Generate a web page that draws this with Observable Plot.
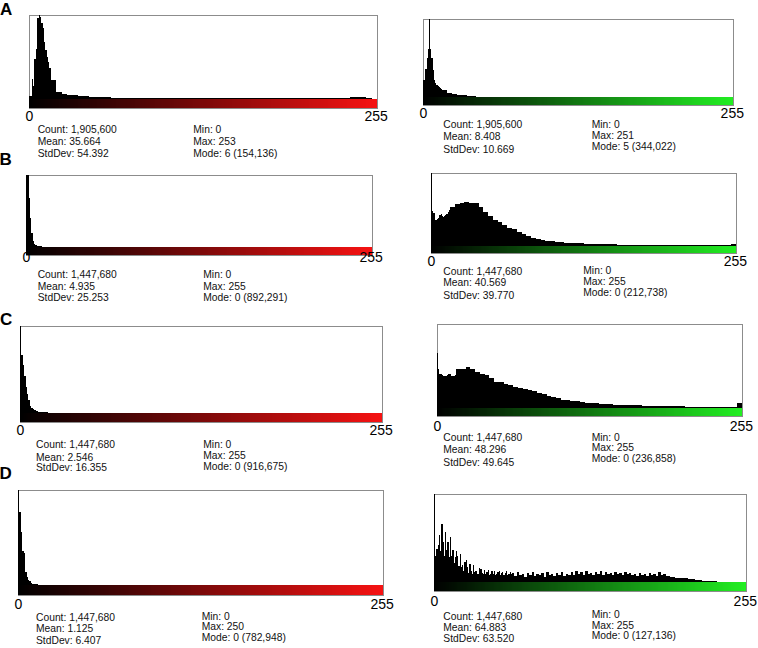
<!DOCTYPE html>
<html><head><meta charset="utf-8">
<script src="https://cdn.jsdelivr.net/npm/d3@7"></script>
<script src="https://cdn.jsdelivr.net/npm/@observablehq/plot@0.6"></script>
<style>
body{margin:0;background:#fff;}
#fig{position:relative;width:758px;height:648px;overflow:hidden;font-family:"Liberation Sans",Arial,sans-serif;background:#fff;}
#fig svg{position:absolute;}
.lbl{position:absolute;font-weight:bold;font-size:17px;line-height:1;color:#000;}
.st{position:absolute;font-size:10.3px;line-height:1;white-space:nowrap;color:#111;}
</style></head><body><div id="fig"></div><script>
// ---------- data (relative histogram heights, % of plot height) ----------
// head: one value per grey level from 0; tail: values for groups of `step` levels after the head
const A_red_head = [3, 4, 24, 15, 48, 60, 97, 100, 98, 90, 85, 68, 58, 50, 44, 37];
const A_red_tail = [23, 8.5, 6, 5, 4.2, 3.5, 3, 2.7, 2.5, 2.2, 1.9, 1.7, 1.6, 1.5, 1.4, 1.3, 1.2,
  1.1, 1.1, 1.0, 1.0, 1.0, 0.9, 0.9, 0.9, 0.9, 0.8, 0.8, 0.8, 0.8, 0.8, 0.8, 0.8, 0.8, 0.8, 0.8, 0.8, 0.8,
  1.4, 0.8, 1.2, 0.8, 1.5, 0.8, 1.4, 1.2, 1.5, 0.8,
  0.8, 0.8, 0.8, 0.8, 0.8, 0.9, 0.9,
  2.0, 2.6, 2.4, 1.5, 0.5];
const A_green_head = [22, 22, 36, 50, 61, 100, 61, 50, 35, 22, 18, 16, 14, 13, 12, 10.5];
const A_green_tail = [8.5, 5.5, 4, 3, 2.3, 1.6, 1, 0.6, 0.4,
  0.2, 0.2, 0.2, 0.2, 0.2, 0.2, 0.2, 0.2, 0.2, 0.2, 0.2, 0.2, 0.2, 0.2, 0.2, 0.2, 0.2, 0.2, 0.2, 0.2, 0.2, 0.2, 0.2, 0.2, 0.2,
  0.2, 0.2, 0.2, 0.2, 0.2, 0.2, 0.2, 0.2, 0.2, 0.2, 0.2, 0.2, 0.2, 0.2, 0.2, 0.2, 0.2, 0.2, 0.2, 0.2, 0.2, 0.2, 0.2, 0.2, 0.2, 0.1];
const B_red_head = [100, 100, 68, 40, 19, 8, 4, 3, 2, 1.5, 1, 0.8, 0.6, 0.5, 0.4, 0.3];
const B_red_tail = [0.4, 0.3, 0.3, 0.2, 0.2, 0.2, 0.2, 0.2, 0.2, 0.2];
const B_green_head = [100, 48, 45, 36, 35, 37, 39, 43, 44, 41, 40, 41, 42, 44, 46, 49];
const B_green_tail = [53, 57, 59, 60, 59.5, 58.5, 54, 47, 41, 36, 32.5, 29, 24, 23, 19.5, 16, 13.8, 11.5, 9.8, 8.2,
  7.2, 6.2, 5.5, 5, 4.6, 4.2, 3.9, 3.6, 3.3, 3.0, 2.8, 2.6, 2.4, 2.3, 2.1, 2.0, 1.9, 1.8, 1.7, 1.6,
  1.5, 1.4, 1.4, 1.3, 1.2, 1.2, 1.1, 1.1, 1.0, 1.0, 0.9, 0.9, 0.8, 0.8, 0.8, 0.7, 0.7, 0.7, 0.8, 3];
const C_red_head = [100, 67, 55, 43, 30, 22, 15, 8, 6, 5, 3, 2.5, 2, 1.5, 1, 0.8];
const C_red_tail = [0.6, 0.4, 0.3, 0.3, 0.2, 0.2, 0.2, 0.2, 0.2, 0.2];
const C_green_head = [66, 47, 41, 40, 39, 38, 38, 38, 39, 40, 41, 40, 38, 38, 38, 39];
const C_green_tail = [46, 46, 49, 46.5, 43, 41, 39, 36, 31.5, 31.5, 28.5, 27, 25, 24, 23, 21, 20, 18, 16.5, 14,
  13, 11.5, 10, 9.2, 8.5, 7.8, 6.8, 6.2, 5.8, 5.4, 5, 4.7, 4.4, 4.1, 3.9, 3.6, 3.4, 3.2, 3.0, 2.8,
  2.6, 2.4, 2.3, 2.2, 2.1, 2.0, 1.9, 1.8, 1.6, 1.5, 1.4, 1.3, 1.2, 1.1, 1.0, 1.0, 0.9, 0.9, 1.0, 6];
const D_red_head = [100, 77, 56, 36, 34, 14, 8, 5, 4, 2.5, 1.5, 1, 0.8, 0.6, 0.5, 0.4];
const D_red_tail = [0.3, 0.3, 0.2, 0.2, 0.2, 0.2, 0.1, 0.1];
const D_green_head = [100, 30, 38, 42, 53, 35, 66, 45, 30, 57, 36, 45, 28, 51, 30, 36,
  22, 28, 35, 30, 18, 32, 17, 19, 12, 23, 25, 17, 10, 21, 13, 9,
  19, 11, 13, 9, 9, 16, 15, 10, 9, 14, 9, 11, 14, 8, 9, 13,
  9, 12, 8, 9, 11, 12, 8, 10, 11, 8, 10, 12, 8, 9, 11, 9];
const D_green_tail = [10, 7, 11, 8, 9, 6, 10, 8, 11, 7, 9, 8, 10, 6, 11, 8, 9, 7, 10, 8, 11, 7, 9, 8,
  11, 8, 12, 9, 11, 8, 12, 9, 10, 8, 11, 9, 12, 8, 11, 9, 10, 8, 11, 9, 10, 8, 11, 9,
  10, 8, 9, 7, 10, 8, 9, 7, 10, 8, 9, 7, 11, 8, 9, 7,
  7, 6, 6, 5, 5, 4.5, 4, 4, 3.5, 3, 3, 2.5, 2, 2, 1.5, 1.5,
  1, 1, 0.8, 0.6, 0.4, 0.3, 0.2, 0.2, 0.1, 0.1, 0.1, 0.1, 0.1, 0.1, 0.1, 0.2];

const panelLetters = ["A", "B", "C", "D"];
const channels = ["red", "green", "red", "green", "red", "green", "red", "green"];
const heads = [A_red_head, A_green_head, B_red_head, B_green_head, C_red_head, C_green_head, D_red_head, D_green_head];
const tails = [A_red_tail, A_green_tail, B_red_tail, B_green_tail, C_red_tail, C_green_tail, D_red_tail, D_green_tail];
const tailSteps = [4, 4, 4, 4, 4, 4, 4, 2];
const tickLabels = [0, 255];

const counts = [1905600, 1905600, 1447680, 1447680, 1447680, 1447680, 1447680, 1447680];
const means = [35.664, 8.408, 4.935, 40.569, 2.546, 48.296, 1.125, 64.883];
const stdDevs = [54.392, 10.669, 25.253, 39.770, 16.355, 49.645, 6.407, 63.520];
const mins = [0, 0, 0, 0, 0, 0, 0, 0];
const maxs = [253, 251, 255, 255, 255, 255, 250, 255];
const modes = [6, 5, 0, 0, 0, 0, 0, 0];
const modeCounts = [154136, 344022, 892291, 212738, 916675, 236858, 782948, 127136];

// ---------- layout (pixel positions) ----------
const layout = [
  {L: 29, R: 377, T: 15, H: 84, B: 9, lab: 115, sx1: 37.7, sx2: 193.3, ys: [130, 141.7, 154, 130, 141.7, 154]},
  {L: 423, R: 733, T: 19, H: 78, B: 8, lab: 112.7, sx1: 443.3, sx2: 591.7, ys: [125, 136.7, 150, 125, 136, 146.7]},
  {L: 26, R: 372, T: 175, H: 72, B: 8, lab: 256, sx1: 37.7, sx2: 203.3, ys: [275, 286.7, 298.3, 275, 286.7, 298.3]},
  {L: 431, R: 736, T: 173, H: 73, B: 7, lab: 260, sx1: 443.3, sx2: 583.3, ys: [271.7, 283.3, 295.7, 271.4, 282, 292.6]},
  {L: 20, R: 382, T: 326, H: 87, B: 9, lab: 429, sx1: 36, sx2: 203.3, ys: [445, 457.7, 468.3, 445, 456, 466.7]},
  {L: 437, R: 742, T: 324, H: 84, B: 8, lab: 425, sx1: 443.3, sx2: 591.7, ys: [438.3, 450, 462.7, 437.5, 448.2, 458.8]},
  {L: 18, R: 383, T: 490, H: 95, B: 10, lab: 603.3, sx1: 36, sx2: 201.7, ys: [618.3, 629.3, 640.7, 616.5, 627.2, 637.8]},
  {L: 434, R: 746, T: 494, H: 88, B: 9, lab: 600, sx1: 443.3, sx2: 591.7, ys: [616.7, 627.7, 639.3, 615, 625.7, 636.4]}
];
const letterPos = [{x: 0, y: 0.7}, {x: -0.5, y: 150.7}, {x: 0, y: 310.7}, {x: -0.5, y: 465.2}];
const lutEnd = {red: "rgb(246,18,18)", green: "rgb(34,238,34)"};
const FONT = '"Liberation Sans", Arial, sans-serif';

const fig = document.getElementById("fig");
const fmtInt = d3.format(",");
const fmt3 = d3.format(".3f");
const levels = d3.range(256);

function toBins(head, tail, step) {
  const out = head.map((v, i) => ({x1: i, x2: i + 1, v}));
  tail.forEach((v, k) => out.push({x1: head.length + k * step, x2: head.length + (k + 1) * step, v}));
  return out;
}

layout.forEach((p, i) => {
  const mL = 12, mR = 16, mT = 1, mB = 22;
  const yMin = -100 * p.B / p.H;
  const bins = toBins(heads[i], tails[i], tailSteps[i]);
  const pad = p.lab - (p.T + p.H + p.B) - 4.9;
  const svg = Plot.plot({
    width: (p.R - p.L) + mL + mR,
    height: p.H + p.B + mT + mB,
    marginLeft: mL, marginRight: mR, marginTop: mT, marginBottom: mB,
    x: {domain: [0, 256], label: null},
    y: {domain: [yMin, 100], axis: null, label: null},
    color: {type: "linear", domain: [0, 255], range: ["#000", lutEnd[channels[i]]]},
    style: {fontFamily: FONT, fontSize: "14px", color: "#000", background: "transparent", overflow: "visible"},
    marks: [
      Plot.frame({stroke: "#8c8c8c"}),
      Plot.rectY(bins, {x1: d => d.x1, x2: d => d.x2, y: d => d.v, fill: "#000", inset: 0, shapeRendering: "crispEdges"}),
      Plot.ruleY([0], {stroke: "#b8b8b8"}),
      Plot.rect(levels, {x1: d => d, x2: d => d + 1, y1: () => yMin, y2: () => 0, fill: d => d, inset: 0, shapeRendering: "crispEdges"}),
      Plot.axisX({ticks: tickLabels, tickSize: 0, tickPadding: pad, tickFormat: d => String(d), fontSize: 14})
    ]
  });
  svg.style.left = (p.L - mL) + "px";
  svg.style.top = (p.T - mT) + "px";
  fig.appendChild(svg);

  const lines = [
    [p.sx1, p.ys[0], `Count: ${fmtInt(counts[i])}`],
    [p.sx1, p.ys[1], `Mean: ${fmt3(means[i])}`],
    [p.sx1, p.ys[2], `StdDev: ${fmt3(stdDevs[i])}`],
    [p.sx2, p.ys[3], `Min: ${mins[i]}`],
    [p.sx2, p.ys[4], `Max: ${maxs[i]}`],
    [p.sx2, p.ys[5], `Mode: ${modes[i]} (${fmtInt(modeCounts[i])})`]
  ];
  for (const [x, y, t] of lines) {
    const d = document.createElement("div");
    d.className = "st";
    d.style.left = x + "px";
    d.style.top = (y - 5) + "px";
    d.textContent = t;
    fig.appendChild(d);
  }
});

panelLetters.forEach((L, k) => {
  const d = document.createElement("div");
  d.className = "lbl";
  d.style.left = letterPos[k].x + "px";
  d.style.top = letterPos[k].y + "px";
  d.textContent = L;
  fig.appendChild(d);
});
</script></body></html>
